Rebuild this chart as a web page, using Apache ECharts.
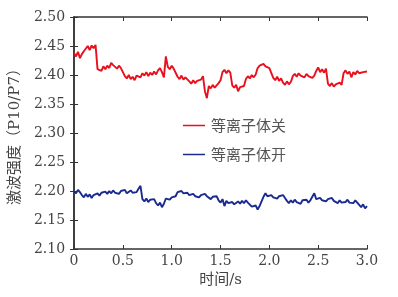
<!DOCTYPE html>
<html>
<head>
<meta charset="utf-8">
<script src="https://cdn.jsdelivr.net/npm/echarts@6/dist/echarts.min.js"></script>
<style>
html, body { margin: 0; padding: 0; background: #fff; }
#chart { width: 398px; height: 297px; }
</style>
</head>
<body>
<div id="chart"></div>
<script>
// 采样间隔 0.02 s，0 ~ 3.0 s
var step = 0.02;

// 等离子体关 (红)
var offVals = [
    2.438, 2.432, 2.440, 2.429, 2.436, 2.441,
    2.444, 2.450, 2.443, 2.451, 2.446, 2.452,
    2.410,
    2.413, 2.407, 2.415, 2.410, 2.416, 2.412,
    2.421, 2.417,
    2.415, 2.411, 2.416, 2.412, 2.409,
    2.398, 2.394, 2.400, 2.393, 2.397, 2.391, 2.399,
    2.402, 2.396, 2.403, 2.399, 2.405, 2.398, 2.404, 2.400, 2.406, 2.401,
    2.408, 2.412, 2.405, 2.396,
    2.432,
    2.414, 2.410, 2.416, 2.411, 2.408,
    2.397, 2.393, 2.399, 2.392, 2.396, 2.394,
    2.389, 2.385, 2.391, 2.386, 2.390, 2.387, 2.392,
    2.398,
    2.372, 2.360,
    2.381, 2.377, 2.383, 2.378, 2.382,
    2.386, 2.391,
    2.405, 2.409, 2.403, 2.408, 2.404,
    2.382, 2.378, 2.383, 2.372, 2.379, 2.376, 2.381,
    2.393, 2.398, 2.394, 2.400, 2.396, 2.401,
    2.412, 2.416, 2.413, 2.419, 2.415, 2.418, 2.412, 2.409,
    2.395, 2.391, 2.397, 2.390, 2.394,
    2.387, 2.383, 2.389, 2.384, 2.388,
    2.398, 2.402, 2.397, 2.403, 2.399, 2.401, 2.396, 2.402, 2.398, 2.400, 2.395, 2.399,
    2.407, 2.413, 2.405, 2.410, 2.404, 2.411,
    2.385, 2.381, 2.386, 2.380, 2.384, 2.382, 2.387, 2.383,
    2.403, 2.408, 2.402, 2.406, 2.396, 2.405, 2.401, 2.407, 2.403, 2.400, 2.405, 2.402, 2.406
];

// 等离子体开 (蓝)
var onVals = [
    2.200, 2.196, 2.202, 2.198,
    2.193, 2.189, 2.195, 2.190, 2.194, 2.188, 2.193, 2.191, 2.196, 2.192,
    2.197, 2.194, 2.199, 2.195, 2.200, 2.196, 2.201, 2.197, 2.199, 2.195,
    2.200, 2.197, 2.202, 2.196, 2.199, 2.201, 2.197, 2.200, 2.198,
    2.204, 2.209,
    2.186, 2.182, 2.187, 2.181, 2.185, 2.183, 2.186,
    2.179, 2.175, 2.180, 2.172, 2.178,
    2.187, 2.190, 2.185, 2.189, 2.186, 2.191,
    2.198, 2.195, 2.200, 2.196, 2.199, 2.197,
    2.193, 2.190, 2.195, 2.191, 2.194, 2.189, 2.193, 2.192, 2.195, 2.191,
    2.189, 2.186, 2.190, 2.187, 2.191,
    2.184, 2.180, 2.186, 2.174, 2.183,
    2.179, 2.176, 2.181, 2.177, 2.180,
    2.182, 2.178, 2.183, 2.179, 2.184, 2.180, 2.177,
    2.173, 2.170, 2.175, 2.168, 2.174,
    2.182, 2.190, 2.196,
    2.191, 2.188, 2.193, 2.189, 2.192, 2.187, 2.191, 2.189, 2.193, 2.188,
    2.183, 2.179, 2.184, 2.180, 2.185, 2.181, 2.183, 2.178, 2.184, 2.182, 2.185, 2.180, 2.184, 2.186,
    2.196,
    2.186, 2.183, 2.188, 2.184, 2.187, 2.182, 2.186, 2.184, 2.188, 2.183,
    2.182, 2.179, 2.184, 2.180, 2.183, 2.181, 2.185, 2.180, 2.183, 2.179, 2.184, 2.181,
    2.176, 2.172, 2.177, 2.170, 2.174
];

function pairs(vals) {
    var out = [];
    for (var i = 0; i < vals.length; i++) {
        out.push([+(i * step).toFixed(2), vals[i]]);
    }
    return out;
}

var axisColor = '#333';
var labelColor = '#444';
var serif = '"DejaVu Serif", "Noto Sans CJK SC", serif';

var myChart = echarts.init(document.getElementById('chart'));
var option = {
    animation: false,
    grid: {
        left: 73,
        right: 31,
        top: 17,
        bottom: 48
    },
    legend: {
        orient: 'vertical',
        left: 178,
        top: 113,
        icon: 'rect',
        itemWidth: 22,
        itemHeight: 1.5,
        itemGap: 14,
        textStyle: {
            color: '#555',
            fontSize: 15,
            fontFamily: '"Noto Sans CJK SC", sans-serif',
            padding: [0, 0, 0, 1]
        },
        data: ['等离子体关', '等离子体开']
    },
    xAxis: [
        {
            type: 'value',
            min: 0,
            max: 3,
            interval: 0.5,
            name: '时间/s',
            nameLocation: 'middle',
            nameGap: 18,
            nameTextStyle: {
                color: labelColor,
                fontSize: 15,
                fontFamily: serif
            },
            axisLine: { lineStyle: { color: axisColor, width: 1.5 } },
            axisTick: { inside: true, length: 4, lineStyle: { color: axisColor } },
            splitLine: { show: false },
            axisLabel: {
                color: labelColor,
                fontSize: 14,
                fontFamily: serif,
                margin: 5,
                formatter: function (v) { return v === 0 ? '0' : v.toFixed(1); }
            }
        },
        {
            type: 'value',
            position: 'top',
            min: 0,
            max: 3,
            interval: 0.5,
            axisLine: { lineStyle: { color: axisColor, width: 1.5 } },
            axisTick: { inside: true, length: 4, lineStyle: { color: axisColor } },
            axisLabel: { show: false },
            splitLine: { show: false }
        }
    ],
    yAxis: [
        {
            type: 'value',
            min: 2.10,
            max: 2.50,
            interval: 0.05,
            name: '激波强度（P10/P7）',
            nameLocation: 'middle',
            nameGap: 44,
            nameTextStyle: {
                color: labelColor,
                fontSize: 15,
                fontFamily: serif
            },
            axisLine: { lineStyle: { color: axisColor, width: 1.5 } },
            axisTick: { inside: true, length: 4, lineStyle: { color: axisColor } },
            splitLine: { show: false },
            axisLabel: {
                color: labelColor,
                fontSize: 14,
                fontFamily: serif,
                margin: 9,
                formatter: function (v) { return v.toFixed(2); }
            }
        },
        {
            type: 'value',
            position: 'right',
            min: 2.10,
            max: 2.50,
            interval: 0.05,
            axisLine: { lineStyle: { color: axisColor, width: 1.5 } },
            axisTick: { inside: true, length: 4, lineStyle: { color: axisColor } },
            axisLabel: { show: false },
            splitLine: { show: false }
        }
    ],
    series: [
        {
            name: '等离子体关',
            type: 'line',
            showSymbol: false,
            color: '#e8101c',
            lineStyle: { width: 1.9 },
            data: pairs(offVals)
        },
        {
            name: '等离子体开',
            type: 'line',
            showSymbol: false,
            color: '#1b2a8f',
            lineStyle: { width: 1.9 },
            data: pairs(onVals)
        }
    ]
};
myChart.setOption(option);
</script>
</body>
</html>
